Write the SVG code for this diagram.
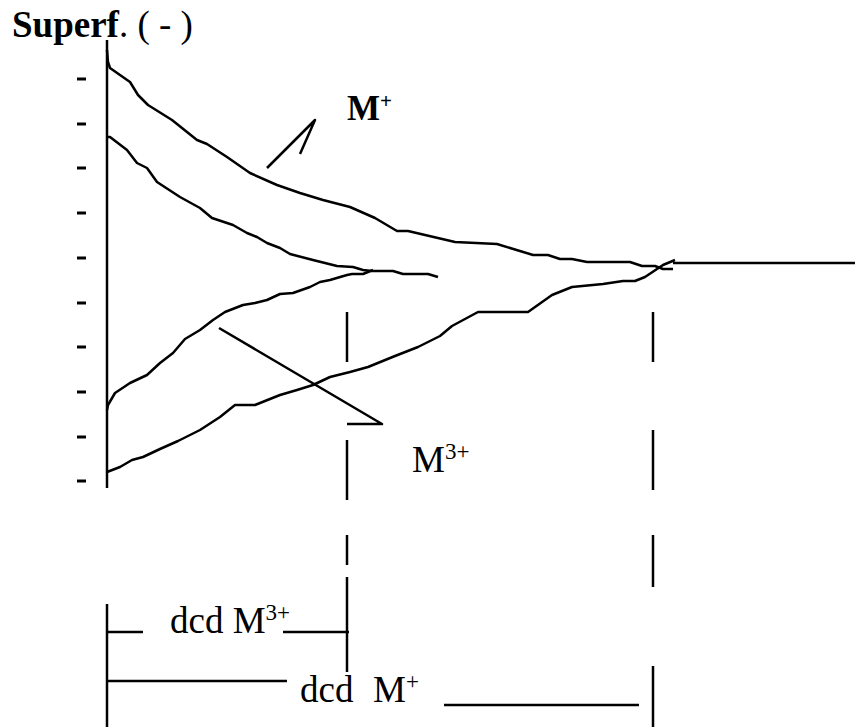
<svg xmlns="http://www.w3.org/2000/svg" width="855" height="727" viewBox="0 0 855 727">
<style>
.ln{fill:none;stroke:#000;stroke-width:2.5;stroke-linejoin:round}
.tk{stroke:#000;stroke-width:3}
.t{font-family:"Liberation Serif","Times New Roman",serif;fill:#000}
</style>
<rect width="855" height="727" fill="#fff"/>
<g id="title"><text class="t" x="12" y="37" font-size="37"><tspan font-weight="bold">Superf</tspan>. ( - )</text></g>
<g id="axis">
<line class="ln" x1="107" y1="40" x2="107" y2="488"/>
<g class="tk">
<line x1="77" y1="79" x2="86" y2="79"/><line x1="77" y1="124" x2="86" y2="124"/><line x1="77" y1="168" x2="86" y2="168"/><line x1="77" y1="213" x2="86" y2="213"/><line x1="77" y1="258" x2="86" y2="258"/><line x1="77" y1="303" x2="86" y2="303"/><line x1="77" y1="347" x2="86" y2="347"/><line x1="77" y1="392" x2="86" y2="392"/><line x1="77" y1="437" x2="86" y2="437"/><line x1="77" y1="481" x2="86" y2="481"/>
</g>
</g>
<g id="curves">
<polyline class="ln" points="107,50 108,62 110,68 130,82 138,95 148,105 172,120 197,140 207,144 227,157 250,173 277,185 300,193 323,200 350,207 375,218 397,231 408,231 455,242 497,244 533,255 548,255 560,259 572,259 587,262 630,262 642,266 655,266 663,269 673,269"/>
<polyline class="ln" points="107,137 110,137 127,150 137,163 147,168 157,182 180,197 200,208 212,218 233,225 247,233 257,237 267,243 280,248 290,254 313,260 337,266 353,267 363,270 372,271 393,271 403,274 428,274 438,277"/>
<polyline class="ln" points="107,410 108,405 115,393 130,383 147,375 160,363 173,353 185,339 200,330 213,320 225,312 243,305 255,303 267,300 280,294 293,293 310,287 320,282 330,280 347,275 352,274 363,274 373,270"/>
<polyline class="ln" points="107,472 120,467 132,460 143,457 160,449 178,441 200,430 220,417 235,405 255,405 280,395 297,390 313,385 330,377 350,372 368,367 395,356 418,347 440,336 452,326 478,312 528,312 552,295 572,287 603,284 623,281 635,281 645,277 663,265 675,260"/>
<line class="ln" x1="673" y1="263" x2="855" y2="263"/>
</g>
<g id="label-m1">
<polyline class="ln" points="267,168 315,120 300,154"/>
<text class="t" x="347" y="120" font-size="35" font-weight="bold">M<tspan font-size="21" dy="-12">+</tspan></text>
</g>
<g id="label-m3">
<polyline class="ln" points="219,328 382,424 347,424"/>
<text class="t" x="412" y="472" font-size="37">M<tspan font-size="23" dy="-13">3+</tspan></text>
</g>
<g id="dashes" class="ln">
<line x1="347" y1="312" x2="347" y2="362"/><line x1="347" y1="440" x2="347" y2="500"/><line x1="347" y1="535" x2="347" y2="565"/><line x1="347" y1="577" x2="347" y2="672"/>
<line x1="653" y1="312" x2="653" y2="362"/><line x1="653" y1="430" x2="653" y2="490"/><line x1="653" y1="535" x2="653" y2="587"/><line x1="653" y1="666" x2="653" y2="727"/>
</g>
<g id="dcd-m3">
<line class="ln" x1="107" y1="604" x2="107" y2="727"/>
<line class="ln" x1="107" y1="632" x2="143" y2="632"/>
<line class="ln" x1="283" y1="632" x2="349" y2="632"/>
<text class="t" x="170" y="633" font-size="37">dcd M<tspan font-size="23" dy="-13">3+</tspan></text>
</g>
<g id="dcd-m1">
<line class="ln" x1="107" y1="681" x2="287" y2="681"/>
<line class="ln" x1="444" y1="705" x2="639" y2="705"/>
<text class="t" x="300" y="702" font-size="37">dcd<tspan x="373">M</tspan><tspan font-size="23" dy="-13">+</tspan></text>
</g>
</svg>
